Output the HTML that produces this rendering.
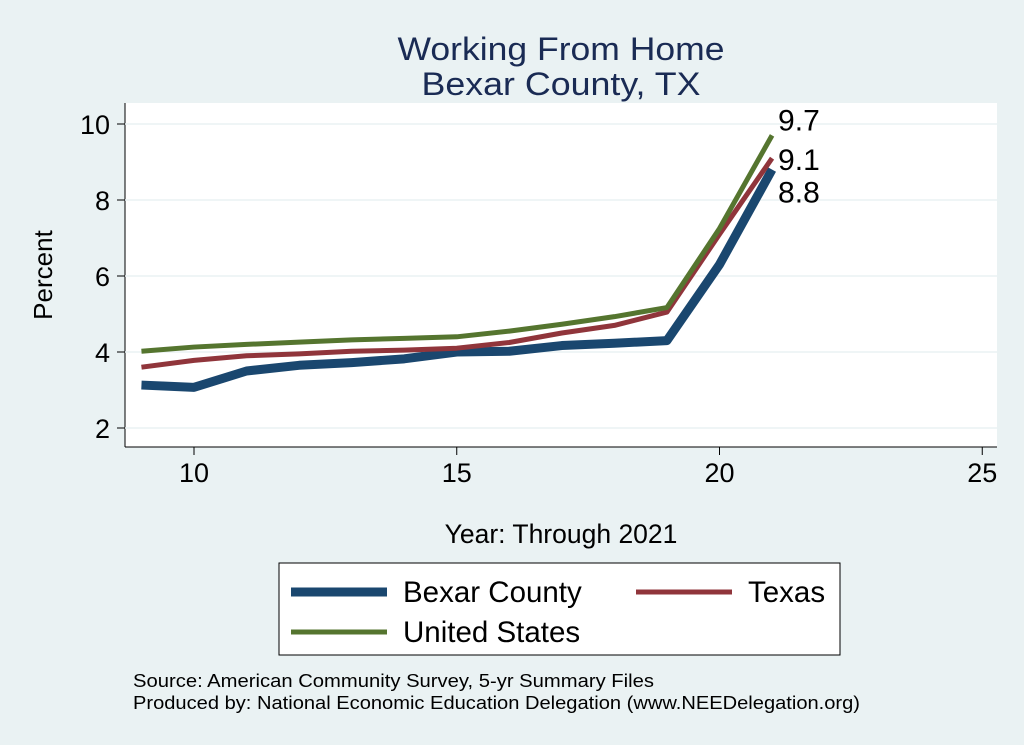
<!DOCTYPE html>
<html><head><meta charset="utf-8"><style>
body{margin:0;background:#eaf2f3;}
svg{display:block;font-family:"Liberation Sans",sans-serif;}
</style></head><body>
<svg id="chart" width="1024" height="745">
<rect x="0" y="0" width="1024" height="745" fill="#eaf2f3"/>
<text x="561" y="60" text-anchor="middle" font-size="32" textLength="327" lengthAdjust="spacingAndGlyphs" fill="#1a2b54">Working From Home</text>
<text x="561" y="95" text-anchor="middle" font-size="32" textLength="279" lengthAdjust="spacingAndGlyphs" fill="#1a2b54">Bexar County, TX</text>
<rect x="125" y="103" width="872" height="344" fill="#fff"/>
<line x1="125" y1="447" x2="997" y2="447" stroke="#000"/>
<line x1="125" y1="103" x2="125" y2="447" stroke="#000"/>
<g id="grid"></g>
<g id="lines"></g>
<g id="axes"></g>
<text x="52" y="275" text-anchor="middle" font-size="26" transform="rotate(-90 52 275)">Percent</text>
<text x="561" y="543" text-anchor="middle" font-size="26.5">Year: Through 2021</text>
<rect x="279" y="563" width="561" height="92" fill="#fff" stroke="#000"/>
<g><line x1="291" y1="592" x2="387" y2="592" stroke="#1a476f" stroke-width="9"/><text x="403" y="602" font-size="29.5">Bexar County</text></g>
<g><line x1="636" y1="592" x2="732" y2="592" stroke="#90353b" stroke-width="5"/><text x="748" y="602" font-size="29.5">Texas</text></g>
<g><line x1="291" y1="632" x2="387" y2="632" stroke="#55752f" stroke-width="5"/><text x="403" y="642" font-size="29.5">United States</text></g>
<text x="133" y="687" font-size="18.5" textLength="521" lengthAdjust="spacingAndGlyphs">Source: American Community Survey, 5-yr Summary Files</text>
<text x="133" y="709" font-size="18.5" textLength="727" lengthAdjust="spacingAndGlyphs">Produced by: National Economic Education Delegation (www.NEEDelegation.org)</text>
</svg>
<script>
const years=[9,10,11,12,13,14,15,16,17,18,19,20,21];
const bexar=[3.13,3.07,3.5,3.65,3.72,3.82,4.0,4.02,4.17,4.23,4.3,6.3,8.8];
const texas=[3.6,3.78,3.9,3.95,4.02,4.05,4.1,4.25,4.5,4.7,5.05,7.1,9.1];
const us=[4.02,4.13,4.2,4.26,4.32,4.36,4.4,4.55,4.73,4.93,5.17,7.25,9.7];
const xTicks=[10,15,20,25];
const yTicks=[2,4,6,8,10];
const NS="http://www.w3.org/2000/svg";
function X(v){return 194+(v-10)*52.55;}
function Y(v){return 428-(v-2)*38;}
function mk(t,a,p){const e=document.createElementNS(NS,t);for(const k in a)e.setAttribute(k,a[k]);p.appendChild(e);return e;}
const grid=document.getElementById('grid'),axes=document.getElementById('axes'),lines=document.getElementById('lines');
yTicks.forEach(v=>{
 const g=mk('line',{x1:125,x2:997,y1:Y(v),y2:Y(v),stroke:'#eaf2f3','stroke-width':1.5},grid);
 
 
 const t=mk('line',{x1:117,x2:125,y1:Y(v),y2:Y(v),stroke:'#000'},axes);
 
 
 const l=mk('text',{x:110,y:Y(v)+10,'text-anchor':'end','font-size':27},axes);l.textContent=v;
 
 
});
xTicks.forEach(v=>{
 const t=mk('line',{x1:X(v),x2:X(v),y1:447,y2:455,stroke:'#000'},axes);
 
 
 const l=mk('text',{x:X(v),y:482,'text-anchor':'middle','font-size':27},axes);l.textContent=v;
 
 
});
function series(d,c,w,n){
 const p=mk('polyline',{points:d.map((v,i)=>X(years[i])+','+Y(v)).join(' '),fill:'none',stroke:c,'stroke-width':w,'stroke-linejoin':'round'},lines);
 
 
}
series(bexar,'#1a476f',9,'line-bexar');
series(texas,'#90353b',5,'line-texas');
series(us,'#55752f',5,'line-us');
const last=years.length-1;
[[us,-5],[texas,12],[bexar,33]].forEach(([d,off])=>{
 const l=mk('text',{x:X(years[last])+6,y:Y(d[last])+off,'font-size':30},lines);
 l.textContent=d[last].toFixed(1);
 
 
});
</script>
</body></html>
